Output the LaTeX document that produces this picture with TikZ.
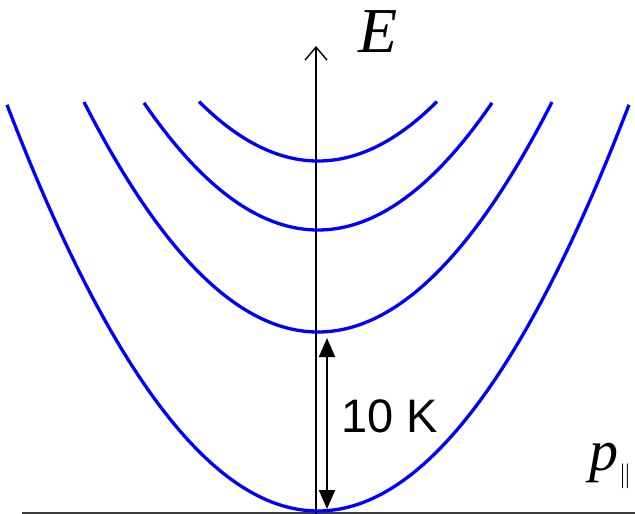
\documentclass[tikz,border=0pt]{standalone}
\usepackage{fontspec}
\setmainfont{Liberation Serif}
\newfontfamily\labelsans{Liberation Sans}
\usetikzlibrary{arrows.meta}
\begin{document}
\begin{tikzpicture}[x=1pt,y=-1pt,
  band/.style={draw={rgb,255:red,0;green,0;blue,255}, line width=3.3pt},
  axisline/.style={draw=black, line width=1.4pt},
  gapline/.style={draw=black, line width=2pt, {Triangle[length=19pt,width=16pt]}-{Triangle[length=19pt,width=16pt]}}]
\useasboundingbox (0,0) rectangle (635,514);
\fill[white] (0,0) rectangle (635,514);
% axes
\coordinate (h0) at (22,513);
\coordinate (h1) at (635,513);
\coordinate (v0) at (316,514);
\coordinate (v1) at (316,46);
\draw[draw={rgb,255:red,60;green,60;blue,60}, line width=1.4pt] (h0) -- (h1);
\draw[axisline, -{Straight Barb[length=13pt,width=22pt,line width=1.4pt]}] (v0) -- (v1);
% bands
\foreach \v/\w in {511/311, 332/234, 230/174, 161/119}{
  \draw[band] plot[domain=-\w:\w, samples=120] ({318+\x},{\v-42*(\x/100)*(\x/100)});
}
% gap arrow
\coordinate (g0) at (327,338);
\coordinate (g1) at (327,509);
\draw[gapline] (g0) -- (g1);
% labels
\node[inner sep=0pt] (E) at (378,32) {\fontsize{64}{64}\selectfont\itshape E};
\node[inner sep=0pt] (p) at (604,463) {\fontsize{58}{58}\selectfont\itshape p};
\node[inner sep=0pt] (par) at (625,476) {\fontsize{26}{26}\selectfont$\parallel$};
\node[inner sep=0pt] (K) at (390,416) {\labelsans\fontsize{47}{47}\selectfont 10 K};
\end{tikzpicture}
\end{document}
